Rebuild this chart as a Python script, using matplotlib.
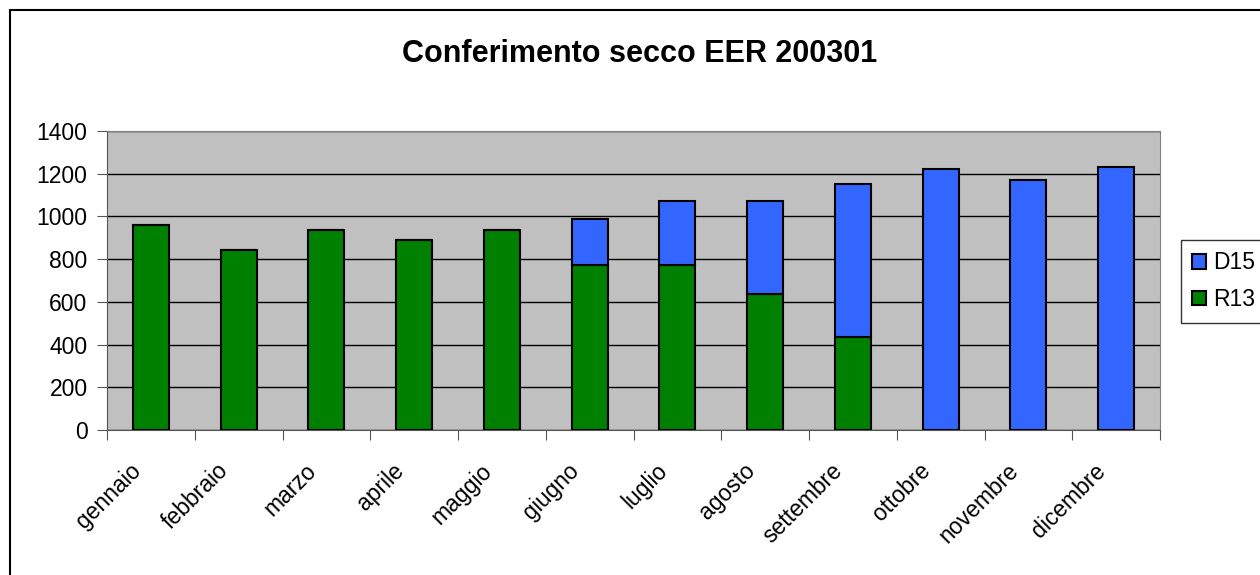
import numpy as np
import matplotlib.pyplot as plt
from matplotlib.patches import Rectangle

plt.rcParams['font.family'] = ['Liberation Sans', 'DejaVu Sans']

mesi = ["gennaio", "febbraio", "marzo", "aprile", "maggio", "giugno",
        "luglio", "agosto", "settembre", "ottobre", "novembre", "dicembre"]
r13 = [961, 844, 936, 890, 936, 772, 771, 635, 435, 0, 0, 0]
d15 = [0, 0, 0, 0, 0, 216, 301, 437, 718, 1224, 1170, 1233]

fig = plt.figure(figsize=(12.6, 5.75), dpi=100)
ax = fig.add_axes([107/1260, 145/575, 1053/1260, 299/575])

# bordo esterno
fig.patches.append(Rectangle((10/1260, -0.1), 1.2, (565/575) + 0.1,
                             transform=fig.transFigure, fill=False,
                             edgecolor="black", linewidth=1.5))

x = np.arange(len(mesi))
w = 0.41
ax.bar(x, r13, w, color="#008000", edgecolor="black", linewidth=1.5,
       label="R13", zorder=3)
ax.bar(x, d15, w, bottom=r13, color="#3366FF", edgecolor="black",
       linewidth=1.5, label="D15", zorder=3)

ax.set_facecolor("#C0C0C0")
ax.set_xlim(-0.5, 11.5)
ax.set_ylim(0, 1400)
ax.set_yticks(range(0, 1401, 200))
ax.yaxis.grid(True, color="black", linewidth=1, zorder=1)
ax.set_axisbelow(True)
ax.tick_params(axis="y", labelsize=16.5, length=7, pad=7, color="#555555")

# tacche ai bordi delle categorie, etichette un po' a sinistra del centro
ax.set_xticks(np.arange(-0.5, 12, 1))
ax.set_xticklabels([])
ax.set_xticks(x - 0.25, minor=True)
ax.set_xticklabels(mesi, minor=True, rotation=45, ha="right", va="top",
                   rotation_mode="anchor", fontsize=16.5)
ax.tick_params(axis="x", which="major", length=7, color="#555555")
ax.tick_params(axis="x", which="minor", length=0, pad=21)

for s in ["top", "right"]:
    ax.spines[s].set_color("#808080")
for s in ["left", "bottom"]:
    ax.spines[s].set_color("#555555")

fig.text(640/1260, 1 - 54/575, "Conferimento secco EER 200301",
         ha="center", va="center", fontsize=22, fontweight="bold")

h, l = ax.get_legend_handles_labels()
leg = fig.legend(h[::-1], l[::-1], loc="upper left",
                 bbox_to_anchor=(1181/1260, 1 - 240/575),
                 fontsize=16.5, frameon=True, fancybox=False,
                 edgecolor="black", handlelength=0.6, handleheight=0.6,
                 handletextpad=0.3, borderpad=0.5, labelspacing=0.6,
                 borderaxespad=0)
leg.get_frame().set_linewidth(1)

fig.savefig("out.png", dpi=100)
